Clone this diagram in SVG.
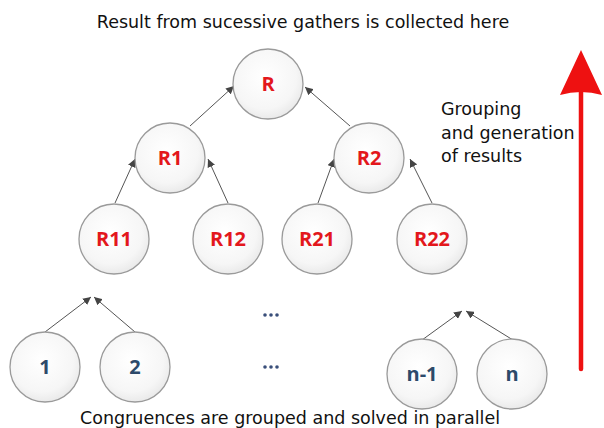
<svg xmlns="http://www.w3.org/2000/svg" width="604" height="428" viewBox="0 0 604 428">
<defs>
<radialGradient id="g" cx="0.45" cy="0.4" r="0.65">
<stop offset="0" stop-color="#ffffff"/>
<stop offset="0.7" stop-color="#f6f6f6"/>
<stop offset="1" stop-color="#e6e6e6"/>
</radialGradient>
<marker id="ah" viewBox="0 0 10 10" refX="10" refY="5" markerWidth="8" markerHeight="8" orient="auto" markerUnits="userSpaceOnUse">
<path d="M0,0 L10,5 L0,10 z" fill="#444"/>
</marker>
</defs>
<style>
.n{fill:url(#g);stroke:#9a9a9a;stroke-width:1.3}
.r{font-family:"Open Sans","DejaVu Sans",sans-serif;font-weight:bold;font-size:20px;fill:#e3171c;text-anchor:middle}
.b{font-family:"Open Sans","DejaVu Sans",sans-serif;font-weight:bold;font-size:20px;fill:#2d4a6a;text-anchor:middle}
.t{font-family:"DejaVu Sans",sans-serif;font-size:17.5px;fill:#111}
.c{stroke:#555;stroke-width:1;fill:none;marker-end:url(#ah)}
</style>
<rect width="604" height="428" fill="#fff"/>
<text class="t" x="303" y="28" text-anchor="middle">Result from sucessive gathers is collected here</text>
<text class="t" x="441" y="115">Grouping</text>
<text class="t" x="441" y="139">and generation</text>
<text class="t" x="441" y="162">of results</text>
<text class="t" x="290" y="424" text-anchor="middle">Congruences are grouped and solved in parallel</text>
<g id="connectors">
<line class="c" x1="190" y1="126" x2="234" y2="86"/>
<line class="c" x1="350" y1="126" x2="305" y2="87"/>
<line class="c" x1="115" y1="203" x2="135" y2="159"/>
<line class="c" x1="228" y1="203" x2="208" y2="159"/>
<line class="c" x1="318" y1="203" x2="334" y2="159"/>
<line class="c" x1="432" y1="203" x2="410" y2="159"/>
<line class="c" x1="45" y1="332" x2="91" y2="297"/>
<line class="c" x1="135" y1="332" x2="94" y2="297"/>
<line class="c" x1="422" y1="340" x2="462" y2="311"/>
<line class="c" x1="513" y1="340" x2="466" y2="311"/>
</g>
<g id="R"><circle class="n" cx="268" cy="84" r="35"/><text class="r" x="268" y="91">R</text></g>
<g id="R1"><circle class="n" cx="170" cy="158" r="35"/><text class="r" x="170" y="165">R1</text></g>
<g id="R2"><circle class="n" cx="369" cy="158" r="35"/><text class="r" x="369" y="165">R2</text></g>
<g id="R11"><circle class="n" cx="114" cy="239" r="35"/><text class="r" x="114" y="246">R11</text></g>
<g id="R12"><circle class="n" cx="228" cy="239" r="35"/><text class="r" x="228" y="246">R12</text></g>
<g id="R21"><circle class="n" cx="317" cy="239" r="35"/><text class="r" x="317" y="246">R21</text></g>
<g id="R22"><circle class="n" cx="432" cy="239" r="35"/><text class="r" x="432" y="246">R22</text></g>
<g id="n1"><circle class="n" cx="45" cy="367" r="35"/><text class="b" x="45" y="374">1</text></g>
<g id="n2"><circle class="n" cx="135" cy="367" r="35"/><text class="b" x="135" y="374">2</text></g>
<g id="nm1"><circle class="n" cx="422" cy="374" r="35"/><text class="b" x="422" y="381">n-1</text></g>
<g id="nn"><circle class="n" cx="512" cy="374" r="35"/><text class="b" x="512" y="381">n</text></g>
<g id="dots" fill="#3a4f7a">
<circle cx="265" cy="315" r="1.8"/><circle cx="271" cy="315" r="1.8"/><circle cx="277" cy="315" r="1.8"/>
<circle cx="265" cy="367" r="1.8"/><circle cx="271" cy="367" r="1.8"/><circle cx="277" cy="367" r="1.8"/>
</g>
<g id="bigarrow">
<line x1="581" y1="369" x2="581" y2="92" stroke="#ee1111" stroke-width="4.5" stroke-linecap="round"/>
<path d="M581,50 L602,95 Q581,89 560,95 Z" fill="#ee1111"/>
</g>
</svg>
